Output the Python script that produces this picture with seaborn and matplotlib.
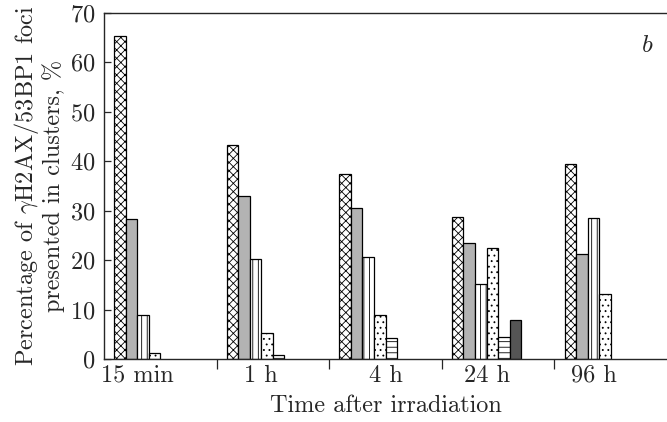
import matplotlib
matplotlib.use("Agg")
import matplotlib.pyplot as plt
import seaborn as sns
import pandas as pd
import numpy as np

# ---- data ----
times = ["15 min", "1 h", "4 h", "24 h", "96 h"]
series = ["s1", "s2", "s3", "s4", "s5", "s6"]
s1 = [65.3, 43.3, 37.5, 28.7, 39.4]
s2 = [28.3, 33.0, 30.6, 23.5, 21.2]
s3 = [8.9, 20.2, 20.7, 15.1, 28.5]
s4 = [1.2, 5.2, 9.0, 22.4, 13.1]
s5 = [None, 0.8, 4.2, 4.4, None]
s6 = [None, None, None, 7.8, None]
values = [s1, s2, s3, s4, s5, s6]

rows = []
for name, vals in zip(series, values):
    for t, v in zip(times, vals):
        if v is not None:
            rows.append({"time": t, "series": name, "value": v})
df = pd.DataFrame(rows)

# two unused hue slots so the six bars sit left in each group, as in the reference
hue_order = series + ["_e1", "_e2"]
facecolors = ["white", "#b3b3b3", "white", "white", "white", "#555555", "white", "white"]
hatches = ["xxxx", "", "|||", "...", "---", ""]

sns.set_style("ticks")
plt.rcParams["font.family"] = ["cmr10", "DejaVu Serif"]
plt.rcParams["mathtext.fontset"] = "cm"
plt.rcParams["axes.formatter.use_mathtext"] = True
plt.rcParams["hatch.linewidth"] = 0.6
plt.rcParams["hatch.color"] = "black"

FS = 17.5

fig = plt.figure(figsize=(6.67, 4.22), dpi=100)
ax = fig.add_axes([104 / 667, 1 - 359 / 422, 1 - 104 / 667, (359 - 13) / 422])

sns.barplot(data=df, x="time", y="value", hue="series", order=times,
            hue_order=hue_order, palette=dict(zip(hue_order, facecolors)),
            width=0.82, edgecolor="black", linewidth=0.9, legend=False,
            errorbar=None, ax=ax, saturation=1)

present = [s for s in series if s in set(df["series"])]
for cont, name in zip(ax.containers, present):
    h = hatches[series.index(name)]
    for bar in cont:
        bar.set_hatch(h)

ax.set_xlim(-0.5, 4.5)
ax.set_ylim(0, 70)
ax.set_yticks(np.arange(0, 71, 10))
ax.tick_params(axis="y", direction="in", length=5, width=0.9, labelsize=FS, pad=6)

label_pos = [-0.2, 0.89, 2.0, 2.9, 3.85]
ax.set_xticks(label_pos, times)
ax.set_xticks([0.5, 1.5, 2.5, 3.5], minor=True)
ax.tick_params(axis="x", which="major", length=0, labelsize=FS, pad=4)
ax.tick_params(axis="x", which="minor", direction="out", length=7, width=0.9)

for side in ["left", "bottom", "top"]:
    ax.spines[side].set_linewidth(1.0)
    ax.spines[side].set_visible(True)
ax.spines["right"].set_visible(False)

ax.set_xlabel("Time after irradiation", fontsize=FS, labelpad=6)
ax.set_ylabel("Percentage of $\\gamma$H2AX/53BP1 foci\npresented in clusters, %",
              fontsize=FS, linespacing=1.05, labelpad=4)
ax.text(0.965, 0.905, "$b$", transform=ax.transAxes, fontsize=18, ha="center", va="center")

fig.savefig("out.png", dpi=100)
